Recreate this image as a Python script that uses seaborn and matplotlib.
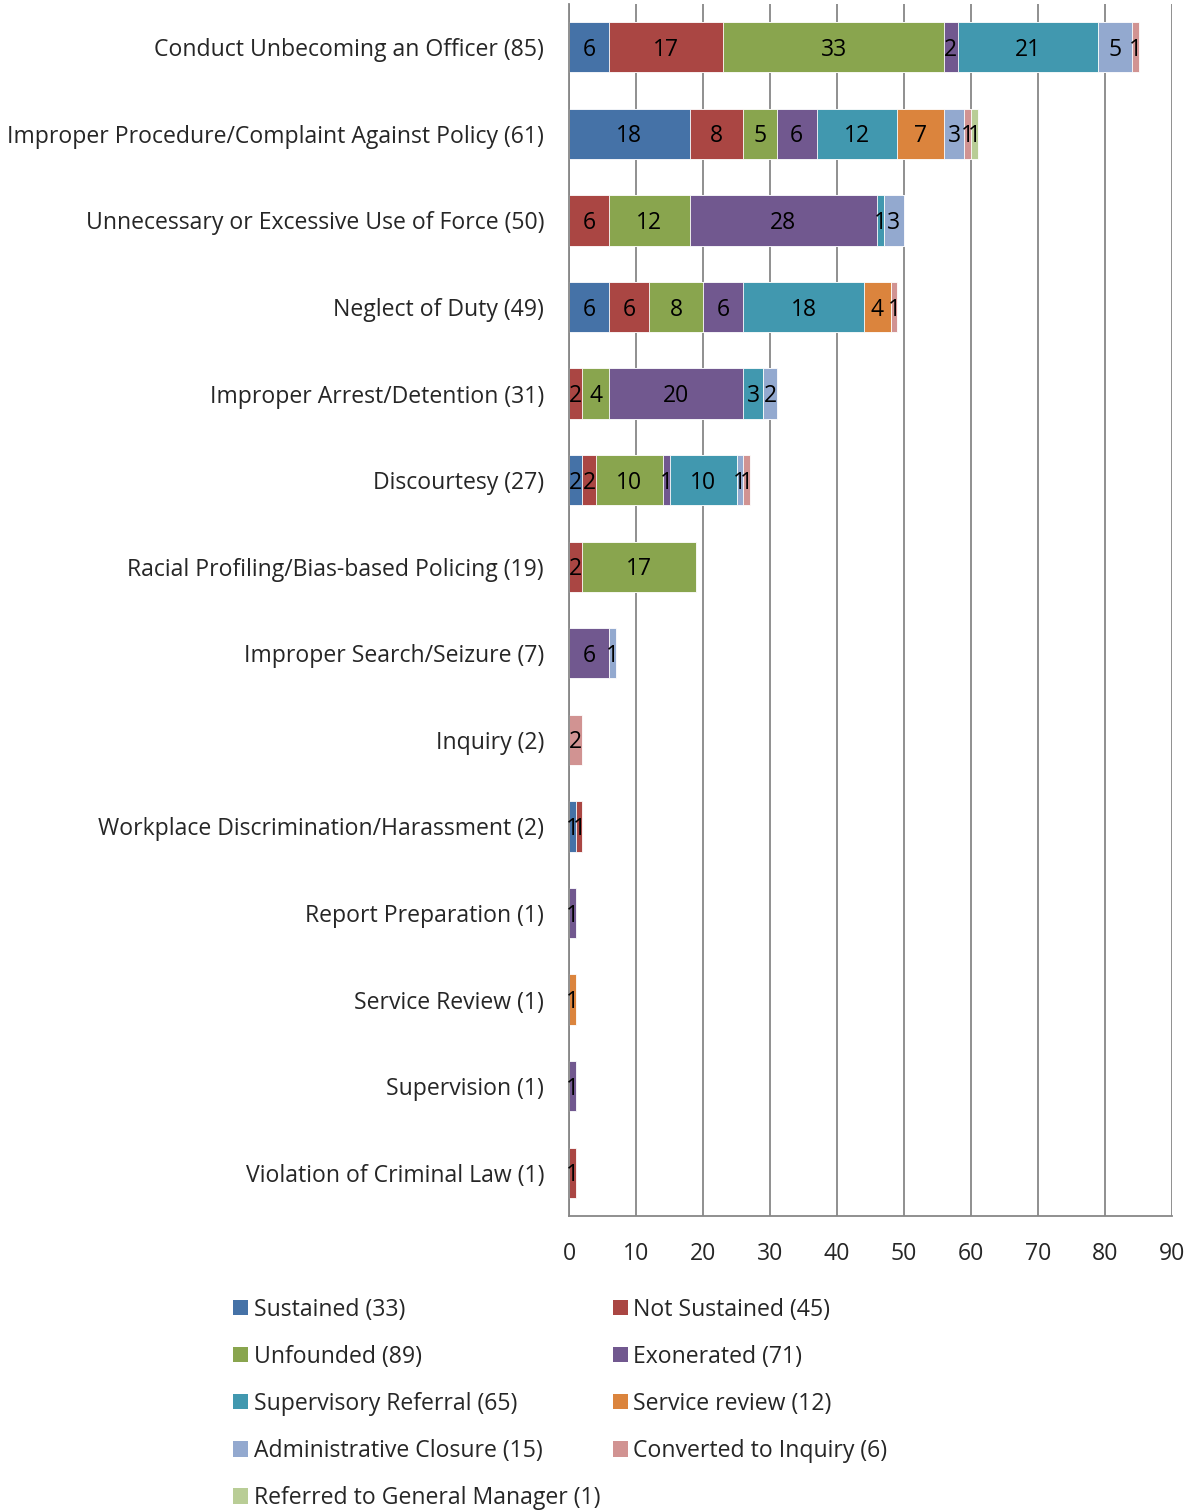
import numpy as np
import pandas as pd
import seaborn as sns
import matplotlib.pyplot as plt
from matplotlib.patches import Patch

# categories (top to bottom)
categories = [
    'Conduct Unbecoming an Officer (85)',
    'Improper Procedure/Complaint Against Policy (61)',
    'Unnecessary or Excessive Use of Force (50)',
    'Neglect of Duty (49)',
    'Improper Arrest/Detention (31)',
    'Discourtesy (27)',
    'Racial Profiling/Bias-based Policing (19)',
    'Improper Search/Seizure (7)',
    'Inquiry (2)',
    'Workplace Discrimination/Harassment (2)',
    'Report Preparation (1)',
    'Service Review (1)',
    'Supervision (1)',
    'Violation of Criminal Law (1)',
]

series_names = [
    'Sustained (33)', 'Not Sustained (45)', 'Unfounded (89)', 'Exonerated (71)',
    'Supervisory Referral (65)', 'Service review (12)', 'Administrative Closure (15)',
    'Converted to Inquiry (6)', 'Referred to General Manager (1)',
]

sustained      = [6, 18, 0, 6, 0, 2, 0, 0, 0, 1, 0, 0, 0, 0]
not_sustained  = [17, 8, 6, 6, 2, 2, 2, 0, 0, 1, 0, 0, 0, 1]
unfounded      = [33, 5, 12, 8, 4, 10, 17, 0, 0, 0, 0, 0, 0, 0]
exonerated     = [2, 6, 28, 6, 20, 1, 0, 6, 0, 0, 1, 0, 1, 0]
sup_referral   = [21, 12, 1, 18, 3, 10, 0, 0, 0, 0, 0, 0, 0, 0]
service_review = [0, 7, 0, 4, 0, 0, 0, 0, 0, 0, 0, 1, 0, 0]
admin_closure  = [5, 3, 3, 0, 2, 1, 0, 1, 0, 0, 0, 0, 0, 0]
converted      = [1, 1, 0, 1, 0, 1, 0, 0, 2, 0, 0, 0, 0, 0]
referred_gm    = [0, 1, 0, 0, 0, 0, 0, 0, 0, 0, 0, 0, 0, 0]

colors = ['#4572A7', '#AA4643', '#89A54E', '#71588F', '#4198AF',
          '#DB843D', '#93A9CF', '#D19392', '#B9CD96']

series = [sustained, not_sustained, unfounded, exonerated, sup_referral,
          service_review, admin_closure, converted, referred_gm]

sns.set_style('white')
plt.rcParams['font.family'] = ['Open Sans', 'DejaVu Sans']

fig = plt.figure(figsize=(11.94, 15.11), dpi=100)
ax = fig.add_axes([569 / 1194, 1 - 1216 / 1511, (1172 - 569) / 1194, (1216 - 4) / 1511])

vals = np.array(series, dtype=float)
cum = np.cumsum(vals, axis=0)

# draw cumulative totals back to front so the stacks appear
for i in range(len(series) - 1, -1, -1):
    df = pd.DataFrame({'cat': categories, 'val': cum[i]})
    sns.barplot(data=df, y='cat', x='val', order=categories, color=colors[i],
                width=0.58, orient='h', ax=ax, edgecolor='white', linewidth=0.6,
                saturation=1)

# data labels
for i in range(len(series)):
    for j in range(len(categories)):
        v = vals[i, j]
        if v > 0:
            ax.text(cum[i, j] - v / 2, j + 0.03, f'{int(v)}', ha='center', va='center',
                    fontsize=16.5, color='black')

ax.set_xlim(0, 90)
ax.set_ylim(13.5, -0.5)
ax.set_xticks(range(0, 91, 10))
ax.xaxis.grid(True, color='#878787', linewidth=1.3)
ax.set_axisbelow(True)
ax.set_xlabel('')
ax.set_ylabel('')
for s in ['top', 'right']:
    ax.spines[s].set_visible(False)
for s in ['left', 'bottom']:
    ax.spines[s].set_color('#878787')
    ax.spines[s].set_linewidth(1.3)
ax.tick_params(axis='y', length=0, pad=18, labelsize=16.6)
ax.tick_params(axis='x', length=0, pad=19, labelsize=16.6)

handles = [Patch(facecolor=c, edgecolor='none') for c in colors]
order = [0, 2, 4, 6, 8, 1, 3, 5, 7]
fig.legend([handles[k] for k in order], [series_names[k] for k in order],
           ncol=2, loc='upper left', bbox_to_anchor=(212 / 1194, 1 - 1277 / 1511),
           frameon=False, fontsize=16.6, handlelength=0.65, handleheight=0.65,
           handletextpad=0.25, columnspacing=0.55, labelspacing=1.0)

fig.savefig('out.png', dpi=100)
